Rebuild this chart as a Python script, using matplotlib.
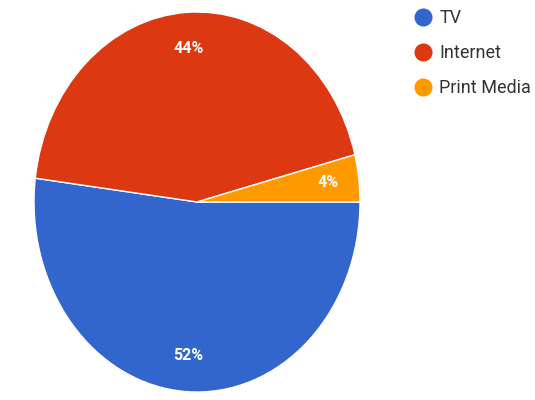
import matplotlib.pyplot as plt
from matplotlib.lines import Line2D

# datos del grafico
categorias = ["TV", "Internet", "Print Media"]
valores = [52, 44, 4]
colores = ["#3366cc", "#dc3912", "#ff9900"]

plt.rcParams['font.family'] = ['Roboto', 'DejaVu Sans']

fig = plt.figure(figsize=(5.35, 4), dpi=100)
# la torta esta un poco estirada en vertical, asi que el eje no es cuadrado
ax = fig.add_axes([34 / 535, 8 / 400, 326 / 535, 380 / 400])

wedges, texts, autotexts = ax.pie(
    valores, colors=colores, startangle=0, counterclock=False,
    autopct='%1.0f%%', pctdistance=0.81,
    wedgeprops=dict(edgecolor="white", linewidth=1),
    textprops=dict(color="white", fontsize=11.5, fontweight="bold"),
)
ax.set_aspect('auto')
ax.set_xlim(-1, 1)
ax.set_ylim(-1, 1)

# leyenda con circulos
handles = [Line2D([], [], marker='o', linestyle='', markersize=12,
                  markerfacecolor=c, markeredgecolor=c) for c in colores]
fig.legend(handles, categorias, loc='upper left',
           bbox_to_anchor=(414 / 535, 1 - 9 / 400), frameon=False,
           fontsize=13, labelspacing=0.95, handlelength=1.0,
           handletextpad=0.4, borderpad=0, borderaxespad=0,
           labelcolor="#333333")

fig.savefig("out.png", dpi=100)
